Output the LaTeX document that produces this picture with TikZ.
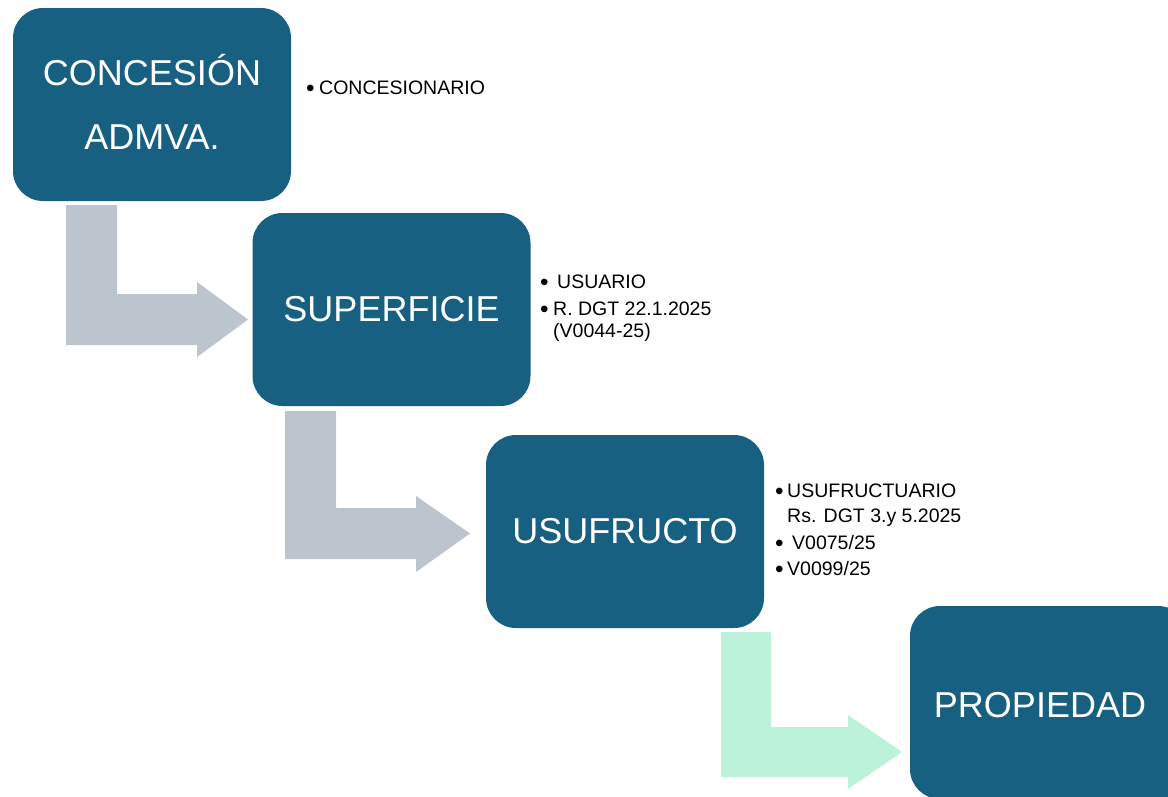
\documentclass[tikz,border=0pt]{standalone}
\usepackage{fontspec}
\setmainfont{Liberation Sans}
\definecolor{boxblue}{HTML}{176082}
\definecolor{arrowgray}{HTML}{BCC5CE}
\definecolor{arrowgreen}{HTML}{BDF2DA}
\newcommand{\bul}[1]{\makebox[#1][l]{\raisebox{-2pt}{\scalebox{1.25}{\textbullet}}}}
\begin{document}
\begin{tikzpicture}[x=1pt,y=-1pt,
  stage/.style={fill=boxblue, rounded corners=30pt, minimum width=278pt,
    minimum height=193pt, inner sep=0pt},
  stagetext/.style={text=white, inner sep=0pt, align=center,
    font=\fontsize{36}{64}\selectfont},
  note/.style={anchor=base west, inner sep=0pt, font=\fontsize{19.5}{22}\selectfont}]
\useasboundingbox (0,0) rectangle (1168,796);
\clip (0,0) rectangle (1168,796);

% bent arrows leading from one stage to the next
\fill[arrowgray] (66,205) -- (117,205) -- (117,294) -- (197,294) -- (197,282)
  -- (248,319.5) -- (197,357) -- (197,345) -- (66,345) -- cycle;
\fill[arrowgray] (285,411) -- (336,411) -- (336,508) -- (416,508) -- (416,496)
  -- (470,533.5) -- (416,572) -- (416,559) -- (285,559) -- cycle;
\fill[arrowgreen] (721,632) -- (771,632) -- (771,727) -- (848,727) -- (848,715)
  -- (902,752) -- (848,789) -- (848,777) -- (721,777) -- cycle;

% stages
\node[stage] (concesion) at (152,104.5) {};
\node[stage] (superficie) at (391.5,309.5) {};
\node[stage] (usufructo) at (625,531.5) {};
\node[stage] (propiedad) at (1049,702.5) {};

\node[stagetext] (tconcesion) at (152,102) {CONCESIÓN\\ADMVA.};
\node[stagetext] (tsuperficie) at (391.5,309.5) {SUPERFICIE};
\node[stagetext] (tusufructo) at (625,531.5) {USUFRUCTO};
\node[stagetext] (tpropiedad) at (1040,705.5) {PROPIEDAD};

% notes beside each stage
\node[note] (n1) at (306,94) {\bul{13pt}CONCESIONARIO};

\node[note] (n2a) at (540,288) {\bul{17pt}USUARIO};
\node[note] (n2b) at (540,315) {\bul{13pt}R. DGT 22.1.2025};
\node[note] (n2c) at (553,337) {(V0044-25)};

\node[note] (n3a) at (775,497) {\bul{12pt}USUFRUCTUARIO};
\node[note] (n3b) at (787,522) {Rs. DGT 3.y 5.2025};
\node[note] (n3c) at (775,549) {\bul{17pt}V0075/25};
\node[note] (n3d) at (775,575) {\bul{12pt}V0099/25};
\end{tikzpicture}
\end{document}
